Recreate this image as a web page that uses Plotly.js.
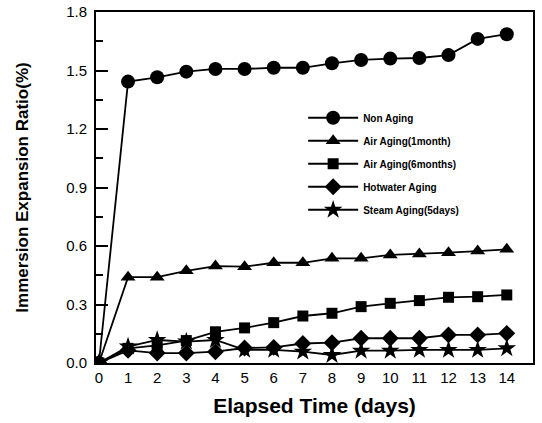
<!DOCTYPE html>
<html>
<head>
<meta charset="utf-8">
<script src="https://cdn.plot.ly/plotly-3.0.1.min.js"></script>
<style>html,body{margin:0;padding:0;background:#fff;}#chart{width:542px;height:423px;}</style>
</head>
<body>
<div id="chart"></div>
<script>
const days = [0,1,2,3,4,5,6,7,8,9,10,11,12,13,14];
const nonAging   = [0, 1.443, 1.465, 1.494, 1.508, 1.508, 1.514, 1.514, 1.537, 1.554, 1.561, 1.564, 1.579, 1.662, 1.686];
const air1Month  = [0, 0.440, 0.440, 0.473, 0.497, 0.494, 0.514, 0.514, 0.537, 0.537, 0.554, 0.559, 0.566, 0.574, 0.583];
const air6Months = [0, 0.075, 0.090, 0.115, 0.160, 0.180, 0.207, 0.241, 0.255, 0.289, 0.306, 0.320, 0.337, 0.340, 0.349];
const hotwater   = [0, 0.065, 0.051, 0.051, 0.058, 0.077, 0.080, 0.100, 0.104, 0.127, 0.127, 0.127, 0.144, 0.144, 0.152];
const steam      = [0, 0.084, 0.118, 0.110, 0.118, 0.067, 0.067, 0.058, 0.041, 0.063, 0.063, 0.067, 0.067, 0.067, 0.075];
const seriesNames = ["Non Aging", "Air Aging(1month)", "Air Aging(6months)", "Hotwater Aging", "Steam Aging(5days)"];
const xTickLabels = ["0","1","2","3","4","5","6","7","8","9","10","11","12","13","14"];

const seriesData = [nonAging, air1Month, air6Months, hotwater, steam];
const symbols = ["circle", "triangle-up", "square", "diamond", "star"];
const sizes = [14, 13, 11, 13, 14];

const traces = seriesData.map((ys, i) => ({
  x: days, y: ys, name: seriesNames[i], type: "scatter", mode: "lines+markers",
  legendgroup: "g" + i,
  line: {color: "#000", width: 1.8},
  marker: {symbol: symbols[i], size: sizes[i], color: "#000", line: {width: 0}}
}));

const layout = {
  width: 542, height: 423,
  paper_bgcolor: "#fff", plot_bgcolor: "#fff",
  margin: {l: 96, r: 9, t: 12, b: 60},
  font: {family: "Liberation Sans, Arial, sans-serif", color: "#000"},
  showlegend: true,
  legend: {
    x: 0.474, y: 0.74, xanchor: "left", yanchor: "top",
    bgcolor: "rgba(0,0,0,0)", borderwidth: 0,
    font: {size: 10, weight: 700, color: "#000"},
    traceorder: "grouped", tracegroupgap: 4, itemwidth: 50
  },
  xaxis: {
    range: [-0.1, 14.9], tickmode: "array", tickvals: days, ticktext: xTickLabels,
    ticks: "", showgrid: false, zeroline: false,
    showline: true, mirror: true, linecolor: "#000", linewidth: 2,
    tickfont: {size: 15, color: "#000"},
    title: {text: "Elapsed Time (days)", font: {size: 21, weight: 700, color: "#000"}, standoff: 13}
  },
  yaxis: {
    range: [0, 1.8], dtick: 0.3, tick0: 0, tickformat: ".1f",
    ticks: "inside", ticklen: 12, tickwidth: 2, tickcolor: "#000",
    minor: {dtick: 0.15, ticks: "inside", ticklen: 7, tickwidth: 2, tickcolor: "#000"},
    showgrid: false, zeroline: false,
    showline: true, mirror: true, linecolor: "#000", linewidth: 2,
    tickfont: {size: 15, color: "#000"},
    ticklabelstandoff: 4,
    title: {text: "Immersion Expansion Ratio(%)", font: {size: 17, weight: 700, color: "#000"}, standoff: 33}
  }
};

Plotly.newPlot("chart", traces, layout, {staticPlot: true, displayModeBar: false});
</script>
</body>
</html>
